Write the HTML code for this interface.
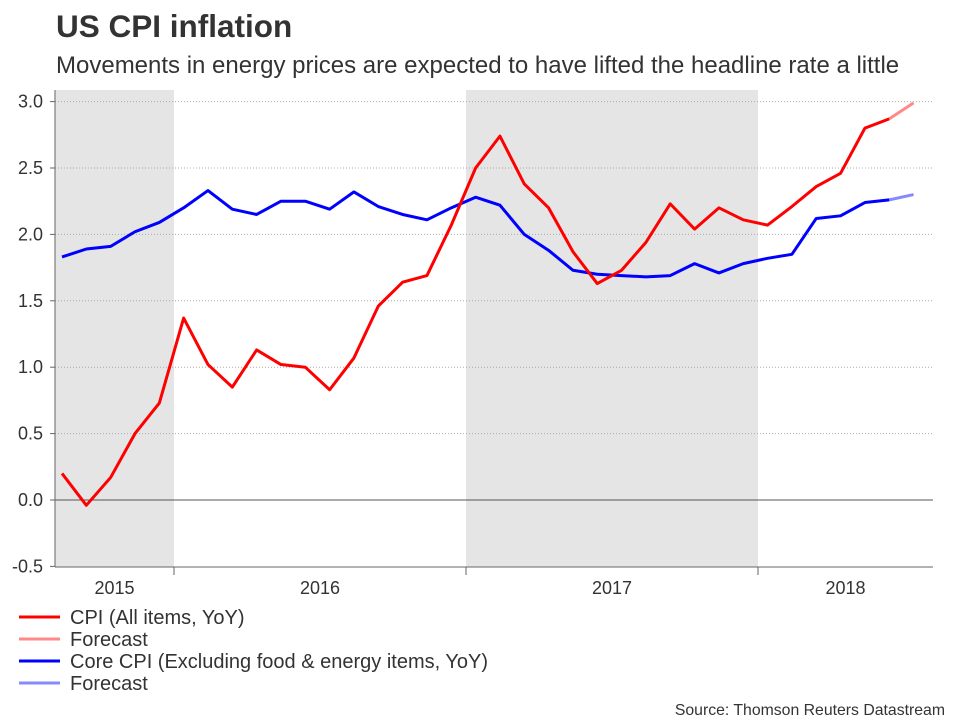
<!DOCTYPE html>
<html><head><meta charset="utf-8"><style>
body{margin:0;background:#fff;font-family:"Liberation Sans",Arial,sans-serif;}
#wrap{position:relative;width:960px;height:720px;overflow:hidden;}
</style></head><body>
<div id="wrap">
<svg id="chart" width="960" height="720" xmlns="http://www.w3.org/2000/svg">
<text x="56" y="37" font-size="31.5" font-weight="bold" fill="#333">US CPI inflation</text>
<text x="56" y="73" font-size="24" fill="#333">Movements in energy prices are expected to have lifted the headline rate a little</text>
<g id="plot"></g>
<g>
<line x1="19" y1="617" x2="60" y2="617" stroke="#f00" stroke-width="3"/>
<text x="70" y="624" font-size="20" fill="#333">CPI (All items, YoY)</text>
<line x1="19" y1="639" x2="60" y2="639" stroke="#f88" stroke-width="3"/>
<text x="70" y="646" font-size="20" fill="#333">Forecast</text>
<line x1="19" y1="661" x2="60" y2="661" stroke="#00f" stroke-width="3"/>
<text x="70" y="668" font-size="20" fill="#333">Core CPI (Excluding food &amp; energy items, YoY)</text>
<line x1="19" y1="683" x2="60" y2="683" stroke="#88f" stroke-width="3"/>
<text x="70" y="690" font-size="20" fill="#333">Forecast</text>
</g>
<text x="945" y="715" font-size="15.8" fill="#333" text-anchor="end">Source: Thomson Reuters Datastream</text>
</svg>
</div>
<script>
const cpi=[0.2,-0.04,0.17,0.5,0.73,1.37,1.02,0.85,1.13,1.02,1.0,0.83,1.07,1.46,1.64,1.69,2.07,2.5,2.74,2.38,2.2,1.87,1.63,1.73,1.94,2.23,2.04,2.2,2.11,2.07,2.21,2.36,2.46,2.8,2.87];
const cpiForecast=[2.87,2.99];
const core=[1.83,1.89,1.91,2.02,2.09,2.2,2.33,2.19,2.15,2.25,2.25,2.19,2.32,2.21,2.15,2.11,2.2,2.28,2.22,2.0,1.88,1.73,1.7,1.69,1.68,1.69,1.78,1.71,1.78,1.82,1.85,2.12,2.14,2.24,2.26];
const coreForecast=[2.26,2.3];
const yTicks=[-0.5,0.0,0.5,1.0,1.5,2.0,2.5,3.0];
const yearLabels=["2015","2016","2017","2018"];
const shadedYears=[0,2];

const NS="http://www.w3.org/2000/svg";
const plot=document.getElementById('plot');
const L=55,R=933,T=90,B=567;
const yScale=v=>500-v*132.8;
const xScale=i=>62+i*24.33;
const yearEdges=[L,174,466,758,R];
function mk(t,a){const e=document.createElementNS(NS,t);for(const k in a)e.setAttribute(k,a[k]);plot.appendChild(e);return e;}
shadedYears.forEach(y=>{
 const r=mk('rect',{x:yearEdges[y],y:T,width:yearEdges[y+1]-yearEdges[y],height:B-T,fill:'#e5e5e5'});
 
 
});
yTicks.forEach(v=>{
 const y=yScale(v);
 if(v!==0&&v!==-0.5){const g=mk('line',{x1:L,x2:R,y1:y,y2:y,stroke:'#aaa','stroke-dasharray':'1,2','stroke-width':1});
 
 }
 mk('line',{x1:L-5,x2:L,y1:y,y2:y,stroke:'#666'});
 const t=mk('text',{x:43,y:y+6,'font-size':18,fill:'#333','text-anchor':'end'});t.textContent=v.toFixed(1);
 
 
});
const z=mk('line',{x1:L,x2:R,y1:yScale(0),y2:yScale(0),stroke:'#555','stroke-width':1});


mk('line',{x1:L,x2:L,y1:T,y2:B,stroke:'#666'});
mk('line',{x1:L,x2:R,y1:B,y2:B,stroke:'#666'});
[174,466,758].forEach(x=>mk('line',{x1:x,x2:x,y1:B,y2:B+8,stroke:'#666'}));
yearLabels.forEach((l,i)=>{
 const t=mk('text',{x:(yearEdges[i]+yearEdges[i+1])/2,y:594,'font-size':18,fill:'#333','text-anchor':'middle'});t.textContent=l;
 
 
});
function line(arr,off,col,name){
 const p=mk('polyline',{points:arr.map((v,i)=>xScale(i+off)+','+yScale(v)).join(' '),fill:'none',stroke:col,'stroke-width':3,'stroke-linejoin':'round'});
 
 
}
line(coreForecast,core.length-1,'#88f','core-cpi-forecast-line');
line(cpiForecast,cpi.length-1,'#f88','cpi-forecast-line');
line(core,0,'#00f','core-cpi-line');
line(cpi,0,'#f00','cpi-line');
</script>
</body></html>
